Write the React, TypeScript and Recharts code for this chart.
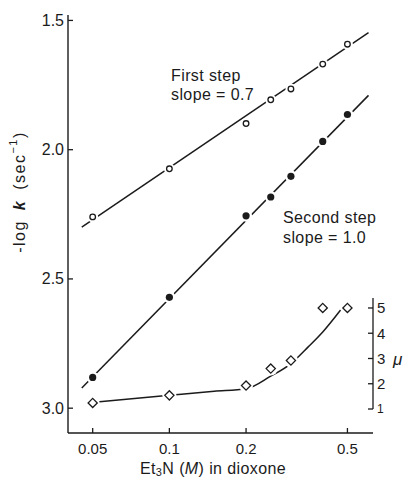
import React from "react";
import { ComposedChart, Line, XAxis, YAxis, ReferenceLine } from "recharts";

// values
const X_TICKS = [0.05, 0.1, 0.2, 0.5];
const X_DOMAIN = [0.04, 0.63];
const Y_TICKS = [1.5, 2.0, 2.5, 3.0];
const Y_DOMAIN = [1.479, 3.096];
const MU_TICKS = [1, 2, 3, 4, 5];
const MU_DOMAIN = [0.05, 16.6];
const MU_AXIS_TOP = 5.4;

const conc = [0.05, 0.1, 0.2, 0.25, 0.3, 0.4, 0.5];
const firstStep = [2.26, 2.074, 1.899, 1.807, 1.765, 1.669, 1.592];
const secondStep = [2.881, 2.571, 2.256, 2.183, 2.103, 1.968, 1.864];
const muValues = [1.24, 1.54, 1.93, 2.6, 2.92, 5.0, 5.0];

// drawn fit lines
const fitX = [0.0453, 0.605];
const firstFitY = [2.3, 1.547];
const secondFitY = [2.922, 1.79];
const muCurveX = [0.05, 0.1, 0.15, 0.2, 0.25, 0.3, 0.35, 0.4, 0.47];
const muCurveY = [1.26, 1.54, 1.7, 1.8, 2.3, 2.8, 3.45, 4.05, 4.92];

const INK = "#1b1b1b";
const FONT = "'Liberation Sans', Arial, sans-serif";

const zip = (xs: number[], ys: number[]) => xs.map((x, i) => ({ x, y: ys[i] }));

const firstData = zip(conc, firstStep);
const secondData = zip(conc, secondStep);
const muData = zip(conc, muValues);
const firstFit = zip(fitX, firstFitY);
const secondFit = zip(fitX, secondFitY);
const muCurve = zip(muCurveX, muCurveY);

function LeftTick({ x, y, payload }: any) {
  return (
    <g>
      <line x1={x} x2={x + 5} y1={y} y2={y} stroke={INK} strokeWidth={1.3} />
      <text x={x - 4} y={y} textAnchor="end" dominantBaseline="central" fontSize={16} fill={INK} fontFamily={FONT}>
        {payload.value.toFixed(1)}
      </text>
    </g>
  );
}

function BottomTick({ x, y, payload }: any) {
  return (
    <g>
      <line x1={x} x2={x} y1={y} y2={y - 5} stroke={INK} strokeWidth={1.3} />
      <text x={x} y={y + 15} textAnchor="middle" dominantBaseline="central" fontSize={15} fill={INK} fontFamily={FONT}>
        {String(payload.value)}
      </text>
    </g>
  );
}

function MuTick({ x, y, payload }: any) {
  return (
    <g>
      <line x1={x - 5} x2={x} y1={y} y2={y} stroke={INK} strokeWidth={1.3} />
      <text x={x + 4} y={y} textAnchor="start" dominantBaseline="central" fontSize={payload.value === 1 ? 12 : 15} fill={INK} fontFamily={FONT}>
        {payload.value}
      </text>
    </g>
  );
}

const openDot = (p: any) => (
  <g key={`o${p.index}`}>
    <circle cx={p.cx} cy={p.cy} r={5.5} fill="#fff" />
    <circle cx={p.cx} cy={p.cy} r={2.8} fill="#fff" stroke={INK} strokeWidth={1.3} />
  </g>
);

const filledDot = (p: any) => (
  <g key={`f${p.index}`}>
    <circle cx={p.cx} cy={p.cy} r={6} fill="#fff" />
    <circle cx={p.cx} cy={p.cy} r={3.6} fill={INK} />
  </g>
);

const diamondDot = (p: any) => {
  const s = 4.6;
  const pts = `${p.cx},${p.cy - s} ${p.cx + s},${p.cy} ${p.cx},${p.cy + s} ${p.cx - s},${p.cy}`;
  return (
    <g key={`d${p.index}`}>
      <circle cx={p.cx} cy={p.cy} r={7} fill="#fff" />
      <polygon points={pts} fill="#fff" stroke={INK} strokeWidth={1.3} />
    </g>
  );
};

const textStyle = { fontFamily: FONT, fontSize: 16, fill: INK, letterSpacing: 0.4 } as const;

export default function App() {
  return (
    <div style={{ position: "absolute", left: 0, top: 0, width: 407, height: 479, background: "#fff" }}>
      <ComposedChart width={407} height={479} margin={{ top: 15, right: 33, bottom: 45, left: 67 }}>
        <XAxis
          dataKey="x"
          type="number"
          scale="log"
          domain={X_DOMAIN}
          ticks={X_TICKS}
          allowDataOverflow
          height={1}
          tickSize={0}
          tickMargin={0}
          tickLine={false}
          axisLine={{ stroke: INK, strokeWidth: 1.4 }}
          tick={<BottomTick />}
        />
        <YAxis
          yAxisId="k"
          dataKey="y"
          type="number"
          reversed
          domain={Y_DOMAIN}
          ticks={Y_TICKS}
          allowDataOverflow
          width={1}
          tickSize={0}
          tickMargin={0}
          tickLine={false}
          axisLine={{ stroke: INK, strokeWidth: 1.4 }}
          tick={<LeftTick />}
        />
        <YAxis
          yAxisId="mu"
          orientation="right"
          dataKey="y"
          type="number"
          domain={MU_DOMAIN}
          ticks={MU_TICKS}
          allowDataOverflow
          width={1}
          tickSize={0}
          tickMargin={0}
          tickLine={false}
          axisLine={false}
          tick={<MuTick />}
        />
        <ReferenceLine
          yAxisId="mu"
          segment={[
            { x: X_DOMAIN[1], y: MU_TICKS[0] },
            { x: X_DOMAIN[1], y: MU_AXIS_TOP },
          ]}
          stroke={INK}
          strokeWidth={1.3}
        />

        <Line yAxisId="k" data={firstFit} dataKey="y" stroke={INK} strokeWidth={1.5} dot={false} activeDot={false} isAnimationActive={false} />
        <Line yAxisId="k" data={secondFit} dataKey="y" stroke={INK} strokeWidth={1.5} dot={false} activeDot={false} isAnimationActive={false} />
        <Line yAxisId="mu" data={muCurve} dataKey="y" type="monotone" stroke={INK} strokeWidth={1.5} dot={false} activeDot={false} isAnimationActive={false} />

        <Line yAxisId="k" data={firstData} dataKey="y" stroke="none" dot={openDot} activeDot={false} isAnimationActive={false} />
        <Line yAxisId="k" data={secondData} dataKey="y" stroke="none" dot={filledDot} activeDot={false} isAnimationActive={false} />
        <Line yAxisId="mu" data={muData} dataKey="y" stroke="none" dot={diamondDot} activeDot={false} isAnimationActive={false} />

        <text x={171} y={75} dominantBaseline="central" style={textStyle}>First step</text>
        <text x={171} y={94} dominantBaseline="central" style={textStyle}>slope = 0.7</text>
        <text x={283} y={217} dominantBaseline="central" style={textStyle}>Second step</text>
        <text x={283} y={237} dominantBaseline="central" style={textStyle}>slope = 1.0</text>

        <text x={393} y={359} dominantBaseline="central" style={{ ...textStyle, fontSize: 17, fontStyle: "italic" }}>μ</text>

        <text
          transform="translate(19,192) rotate(-90)"
          textAnchor="middle"
          dominantBaseline="central"
          style={{ ...textStyle, fontSize: 16, letterSpacing: 1.5, wordSpacing: 4 }}
        >
          -log <tspan fontStyle="italic" fontWeight="bold">k</tspan> (sec<tspan dy={-6} fontSize={11}>−1</tspan><tspan dy={6}>)</tspan>
        </text>

        <text x={213} y={468} textAnchor="middle" dominantBaseline="central" style={textStyle}>
          Et<tspan dy={4} fontSize={11}>3</tspan><tspan dy={-4}>N (</tspan><tspan fontStyle="italic">M</tspan>) in dioxone
        </text>
      </ComposedChart>
    </div>
  );
}
